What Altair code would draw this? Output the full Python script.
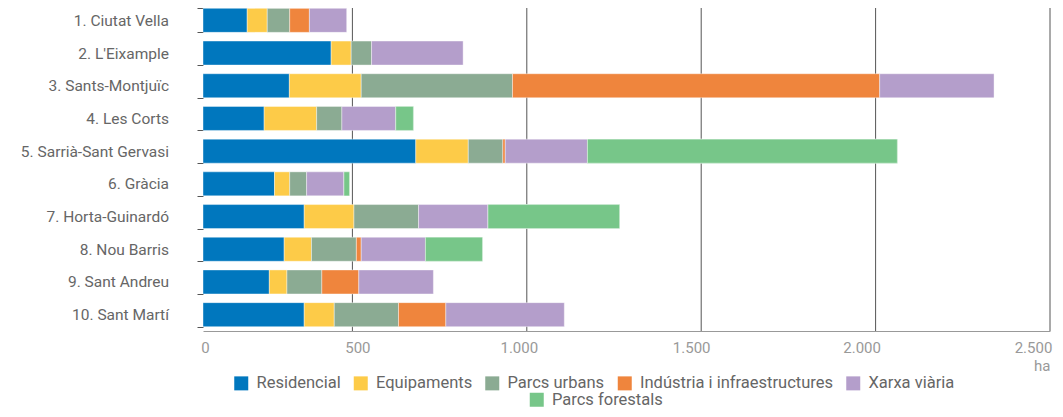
import altair as alt
import pandas as pd

districts = ["1. Ciutat Vella", "2. L'Eixample", "3. Sants-Montjuïc", "4. Les Corts",
             "5. Sarrià-Sant Gervasi", "6. Gràcia", "7. Horta-Guinardó", "8. Nou Barris",
             "9. Sant Andreu", "10. Sant Martí"]
categories = ["Residencial", "Equipaments", "Parcs urbans",
              "Indústria i infraestructures", "Xarxa viària", "Parcs forestals"]
colors = ["#0077BE", "#FDCB48", "#8BAB93", "#EF853D", "#B49ECB", "#77C689"]

residencial = [128, 371, 250, 177, 616, 207, 293, 235, 192, 293]
equipaments = [58, 58, 208, 152, 152, 44, 144, 79, 51, 87]
parcs_urbans = [65, 59, 438, 73, 100, 49, 187, 130, 101, 186]
industria = [57, 0, 1063, 0, 7, 0, 0, 14, 107, 137]
xarxa_viaria = [108, 265, 331, 156, 238, 108, 201, 186, 216, 343]
parcs_forestals = [0, 0, 0, 51, 897, 16, 381, 165, 0, 0]

tick_values = [0, 500, 1000, 1500, 2000, 2500]

series = [residencial, equipaments, parcs_urbans, industria, xarxa_viaria, parcs_forestals]
rows = []
for i, d in enumerate(districts):
    for j, (c, vals) in enumerate(zip(categories, series)):
        rows.append({"district": d, "category": c, "order": j, "value": vals[i]})
df = pd.DataFrame(rows)

FONT = "Roboto"

y_enc = alt.Y(
    "district:N", sort=districts, title=None,
    scale=alt.Scale(paddingInner=0.266, paddingOuter=0.133),
    axis=alt.Axis(tickBand="extent", tickSize=6, tickColor="#555", domain=False,
                  labelPadding=28.5, labelFontSize=15.5, labelFont=FONT, labelColor="#666",
                  labelLimit=300),
)

bar_scale = alt.Scale(domain=[0, 2452], nice=False, zero=True)

base = alt.Chart(df).transform_filter("datum.value > 0").transform_stack(
    stack="value", groupby=["district"], sort=[alt.SortField("order")], as_=["x0", "x1"]
)

legend_common = dict(orient="none", direction="horizontal", title=None,
                     symbolType="square", symbolSize=196, symbolStrokeWidth=0,
                     labelFontSize=16.5, labelFont=FONT, labelColor="#666",
                     labelOffset=7, columnPadding=11.5, padding=0, labelLimit=400)

bars_all = base.mark_bar(stroke="white", strokeOpacity=0.4, strokeWidth=1).encode(
    y=y_enc,
    x=alt.X("x0:Q", scale=bar_scale,
            axis=alt.Axis(orient="bottom", labels=False, ticks=False, grid=False,
                          domain=True, domainColor="#999", title=None)),
    x2="x1:Q",
    color=alt.Color("category:N", scale=alt.Scale(domain=categories, range=colors),
                    legend=alt.Legend(values=categories[:5], legendX=30, legendY=371,
                                      **legend_common)),
)

bars_forest = base.transform_filter(
    alt.datum.category == categories[5]
).mark_bar(stroke="white", strokeOpacity=0.4, strokeWidth=1).encode(
    y=y_enc,
    x=alt.X("x0:Q", scale=bar_scale, axis=None),
    x2="x1:Q",
    color=alt.Color("category:N", scale=alt.Scale(domain=categories[5:], range=colors[5:]),
                    legend=alt.Legend(legendX=325.5, legendY=387.5, **legend_common)),
)

offset_expr = ("datum.value == 0 ? 27 : datum.value == 500 ? 5 : datum.value == 1000 ? -8 : "
               "datum.value == 1500 ? -10 : datum.value == 2000 ? -14 : -17")

grid = alt.Chart(pd.DataFrame({"v": tick_values})).transform_filter(
    "datum.v > 0"
).mark_rule(color="#555", strokeWidth=1).encode(
    x=alt.X("v:Q", scale=alt.Scale(domain=[0, 2500], range=[-25, 847], nice=False),
            axis=alt.Axis(values=tick_values, orient="bottom", grid=False, ticks=False,
                          domain=False, labelFlush=False,
                          labelExpr="replace(format(datum.value, ','), ',', '.')",
                          labelFontSize=15, labelFont=FONT, labelColor="#999",
                          labelPadding=9, labelOffset={"expr": offset_expr},
                          title="ha", titleFontSize=15, titleFont=FONT,
                          titleFontWeight="normal", titleColor="#999",
                          titleAlign="right", titleBaseline="alphabetic",
                          titleX=847, titleY=39.7)),
)

chart = alt.layer(grid, bars_all, bars_forest).resolve_scale(
    x="independent", color="independent"
).properties(
    width=847, height=327,
    autosize=alt.AutoSizeParams(type="none"),
    padding={"left": 195, "top": -4, "right": 5, "bottom": 78},
).configure(font=FONT).configure_view(stroke=None)

chart.save("out.html", embed_options={"renderer": "svg", "actions": False})
